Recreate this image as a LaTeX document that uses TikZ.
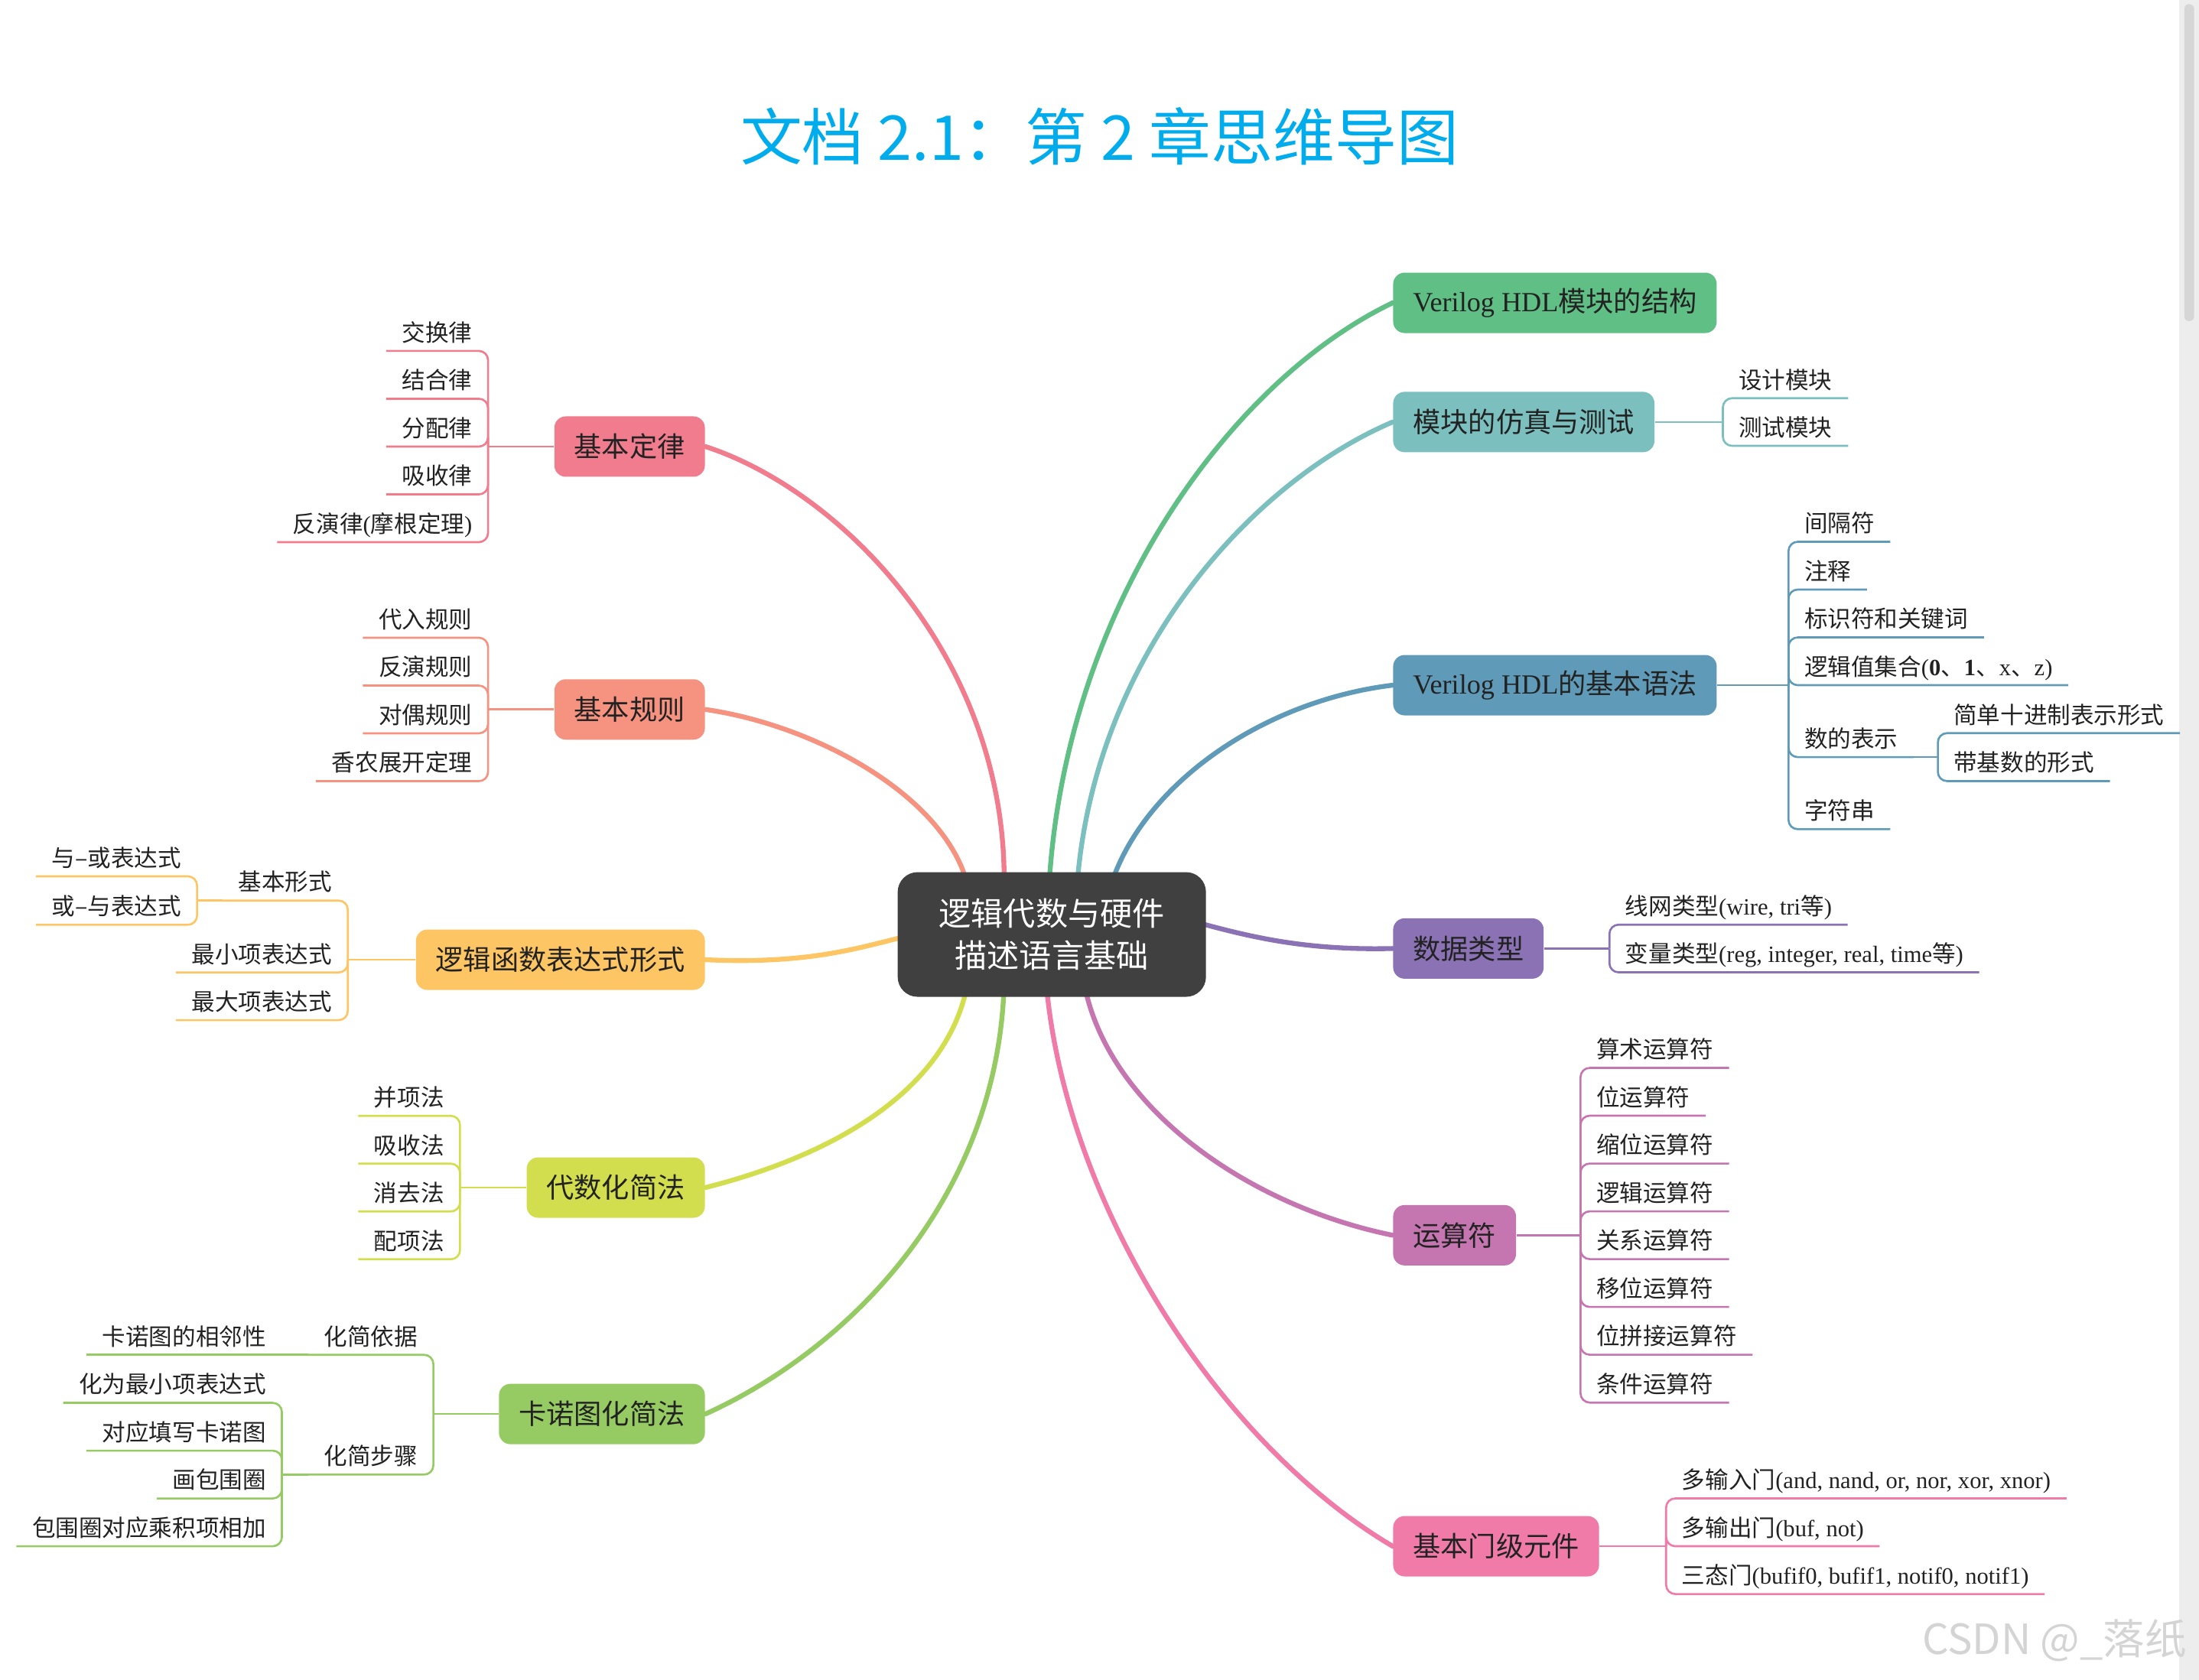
\documentclass[tikz,border=0pt]{standalone}
\usepackage{fontspec}
\setmainfont{Noto Sans CJK SC}
\newfontfamily\lat{Liberation Serif}
\usetikzlibrary{calc}
\pgfdeclarelayer{background}
\pgfsetlayers{background,main}

\definecolor{cTitle}{RGB}{0,172,236}
\definecolor{cCore}{RGB}{64,64,64}
\definecolor{cInk}{RGB}{34,34,34}
\definecolor{cLaw}{RGB}{240,124,142}
\definecolor{cRule}{RGB}{245,146,128}
\definecolor{cForm}{RGB}{253,197,99}
\definecolor{cAlg}{RGB}{210,222,78}
\definecolor{cKmap}{RGB}{149,203,98}
\definecolor{cStruct}{RGB}{96,191,133}
\definecolor{cSim}{RGB}{123,192,190}
\definecolor{cSyn}{RGB}{95,155,184}
\definecolor{cType}{RGB}{138,114,181}
\definecolor{cOp}{RGB}{197,118,177}
\definecolor{cGate}{RGB}{240,123,168}

\tikzset{
    % central topic
    core/.style={fill=cCore, text=white, rounded corners=2.6mm,
        minimum width=40.3mm, minimum height=16.3mm, align=center,
        font=\fontsize{12}{15.6}\selectfont},
    % main branch boxes
    topic/.style={fill=#1, rounded corners=1.5mm, inner xsep=2.6mm,
        inner ysep=0pt, minimum height=7.9mm, text=cInk,
        font=\fontsize{10.3}{12}\selectfont},
    % underlined sub items
    leaf/.style={inner xsep=2mm, inner ysep=0.6mm, text height=2.6mm,
        text depth=0.6mm, text=cInk, font=\fontsize{8.7}{10}\selectfont},
    lleaf/.style={leaf, anchor=south east},
    rleaf/.style={leaf, anchor=south west},
    twig/.style={draw=#1, line width=0.75pt, rounded corners=1.2mm},
    limb/.style={draw=#1, line width=1.8pt, line cap=round}
}

\begin{document}
\begin{tikzpicture}[x=0.18335mm, y=-0.18335mm]
    \useasboundingbox (0,0) rectangle (1568,1198);

    % page scroll bar
    \fill[black!7] (1554,0) rectangle (1568,1198);
    \fill[black!16, rounded corners=0.6mm] (1557.5,3) rectangle (1564.5,229);

    % title
    \node[font=\fontsize{23}{28}\selectfont, text=cTitle] (title) at (784,97)
        {文档 2.1：第 2 章思维导图};

    % central topic
    \node[core] (core) at (750,666.5) {逻辑代数与硬件\\描述语言基础};

    % =========================================================================
    % LEFT SIDE
    % =========================================================================
    \node[topic=cLaw,  anchor=east] (law)  at (503,318.5)  {基本定律};
    \node[topic=cRule, anchor=east] (rule) at (503,506)    {基本规则};
    \node[topic=cForm, anchor=east] (form) at (503,684.5)  {逻辑函数表达式形式};
    \node[topic=cAlg,  anchor=east] (alg)  at (503,847)    {代数化简法};
    \node[topic=cKmap, anchor=east] (kmap) at (503,1008.5) {卡诺图化简法};

    % 基本定律
    \coordinate (law-s) at (348,318.5);
    \foreach \t [count=\i] in {交换律, 结合律, 分配律, 吸收律, 反演律{\lat(}摩根定理{\lat)}}
        \node[lleaf] (law-\i) at (348,{318.5+(\i-3)*34.1}) {\t};
    \draw[twig=cLaw] (law.west) -- (law-s);
    \foreach \i in {1,...,5}
        \draw[twig=cLaw] (law-s) |- (law-\i.south west);

    % 基本规则
    \coordinate (rule-s) at (348,506);
    \foreach \t [count=\i] in {代入规则, 反演规则, 对偶规则, 香农展开定理}
        \node[lleaf] (rule-\i) at (348,{506+(\i-2.5)*34.1}) {\t};
    \draw[twig=cRule] (rule.west) -- (rule-s);
    \foreach \i in {1,...,4}
        \draw[twig=cRule] (rule-s) |- (rule-\i.south west);

    % 逻辑函数表达式形式
    \coordinate (form-s) at (248,684.5);
    \node[lleaf] (form-1) at (248,642.3) {基本形式};
    \node[lleaf] (form-2) at (248,693.6) {最小项表达式};
    \node[lleaf] (form-3) at (248,727.6) {最大项表达式};
    \draw[twig=cForm] (form.west) -- (form-s);
    \foreach \i in {1,2,3}
        \draw[twig=cForm] (form-s) |- (form-\i.south west);
    \coordinate (form-1s) at (140.5,642.3);
    \node[lleaf] (form-1-1) at (140.5,625)   {与–或表达式};
    \node[lleaf] (form-1-2) at (140.5,659.6) {或–与表达式};
    \draw[twig=cForm] (form-1.south west) -- (form-1s);
    \foreach \i in {1,2}
        \draw[twig=cForm] (form-1s) |- (form-1-\i.south west);

    % 代数化简法
    \coordinate (alg-s) at (328,847);
    \foreach \t [count=\i] in {并项法, 吸收法, 消去法, 配项法}
        \node[lleaf] (alg-\i) at (328,{847+(\i-2.5)*34.1}) {\t};
    \draw[twig=cAlg] (alg.west) -- (alg-s);
    \foreach \i in {1,...,4}
        \draw[twig=cAlg] (alg-s) |- (alg-\i.south west);

    % 卡诺图化简法
    \coordinate (kmap-s) at (309,1008.5);
    \node[lleaf] (kmap-1) at (309,966.3)  {化简依据};
    \node[lleaf] (kmap-2) at (309,1051.7) {化简步骤};
    \draw[twig=cKmap] (kmap.west) -- (kmap-s);
    \foreach \i in {1,2}
        \draw[twig=cKmap] (kmap-s) |- (kmap-\i.south west);
    \coordinate (kmap-1s) at (201,966.3);
    \node[lleaf] (kmap-1-1) at (201,966.3) {卡诺图的相邻性};
    \draw[twig=cKmap] (kmap-1.south west) -- (kmap-1s) -- (kmap-1-1.south west);
    \coordinate (kmap-2s) at (201,1051.7);
    \foreach \t [count=\i] in {化为最小项表达式, 对应填写卡诺图, 画包围圈, 包围圈对应乘积项相加}
        \node[lleaf] (kmap-2-\i) at (201,{1051.7+(\i-2.5)*34.1}) {\t};
    \draw[twig=cKmap] (kmap-2.south west) -- (kmap-2s);
    \foreach \i in {1,...,4}
        \draw[twig=cKmap] (kmap-2s) |- (kmap-2-\i.south west);

    % =========================================================================
    % RIGHT SIDE
    % =========================================================================
    \node[topic=cStruct, anchor=west] (struct) at (993,216)    {{\lat Verilog HDL}模块的结构};
    \node[topic=cSim,    anchor=west] (sim)    at (993,301)    {模块的仿真与测试};
    \node[topic=cSyn,    anchor=west] (syn)    at (993,488.7)  {{\lat Verilog HDL}的基本语法};
    \node[topic=cType,   anchor=west] (type)   at (993,676.5)  {数据类型};
    \node[topic=cOp,     anchor=west] (op)     at (993,881)    {运算符};
    \node[topic=cGate,   anchor=west] (gate)   at (993,1102.8) {基本门级元件};

    % 模块的仿真与测试
    \coordinate (sim-s) at (1228.5,301);
    \node[rleaf] (sim-1) at (1228.5,284) {设计模块};
    \node[rleaf] (sim-2) at (1228.5,318) {测试模块};
    \draw[twig=cSim] (sim.east) -- (sim-s);
    \foreach \i in {1,2}
        \draw[twig=cSim] (sim-s) |- (sim-\i.south east);

    % Verilog HDL的基本语法
    \coordinate (syn-s) at (1275.3,488.7);
    \node[rleaf] (syn-1) at (1275.3,386.4) {间隔符};
    \node[rleaf] (syn-2) at (1275.3,420.5) {注释};
    \node[rleaf] (syn-3) at (1275.3,454.6) {标识符和关键词};
    \node[rleaf] (syn-4) at (1275.3,488.7)
        {逻辑值集合{\lat(\textbf{0}}、{\lat\textbf{1}}、{\lat x}、{\lat z)}};
    \node[rleaf] (syn-5) at (1275.3,540)   {数的表示};
    \node[rleaf] (syn-6) at (1275.3,591.4) {字符串};
    \draw[twig=cSyn] (syn.east) -- (syn-s);
    \foreach \i in {1,...,6}
        \draw[twig=cSyn] (syn-s) |- (syn-\i.south east);
    \coordinate (syn-5s) at (1381.8,540);
    \node[rleaf] (syn-5-1) at (1381.8,522.9) {简单十进制表示形式};
    \node[rleaf] (syn-5-2) at (1381.8,557.1) {带基数的形式};
    \draw[twig=cSyn] (syn-5.south east) -- (syn-5s);
    \foreach \i in {1,2}
        \draw[twig=cSyn] (syn-5s) |- (syn-5-\i.south east);

    % 数据类型
    \coordinate (type-s) at (1147.6,676.5);
    \node[rleaf] (type-1) at (1147.6,659.5) {线网类型{\lat(wire, tri}等{\lat)}};
    \node[rleaf] (type-2) at (1147.6,693.5) {变量类型{\lat(reg, integer, real, time}等{\lat)}};
    \draw[twig=cType] (type.east) -- (type-s);
    \foreach \i in {1,2}
        \draw[twig=cType] (type-s) |- (type-\i.south east);

    % 运算符
    \coordinate (op-s) at (1127,881);
    \foreach \t [count=\i] in {算术运算符, 位运算符, 缩位运算符, 逻辑运算符,
                               关系运算符, 移位运算符, 位拼接运算符, 条件运算符}
        \node[rleaf] (op-\i) at (1127,{881+(\i-4.5)*34.1}) {\t};
    \draw[twig=cOp] (op.east) -- (op-s);
    \foreach \i in {1,...,8}
        \draw[twig=cOp] (op-s) |- (op-\i.south east);

    % 基本门级元件
    \coordinate (gate-s) at (1188,1102.8);
    \node[rleaf] (gate-1) at (1188,1068.7) {多输入门{\lat(and, nand, or, nor, xor, xnor)}};
    \node[rleaf] (gate-2) at (1188,1102.8) {多输出门{\lat(buf, not)}};
    \node[rleaf] (gate-3) at (1188,1136.9) {三态门{\lat(bufif0, bufif1, notif0, notif1)}};
    \draw[twig=cGate] (gate.east) -- (gate-s);
    \foreach \i in {1,2,3}
        \draw[twig=cGate] (gate-s) |- (gate-\i.south east);

    % =========================================================================
    % CURVED LIMBS: from the topics into the central topic
    % =========================================================================
    \begin{pgfonlayer}{background}
        \draw[limb=cLaw]    (law.east)    .. controls +(97,31.5) and +(2,-162) .. ($(core.north)+(-34,10)$);
        \draw[limb=cRule]   (rule.east)   .. controls +(82,12) and +(-15,-62) .. ($(core.north)+(-60,10)$);
        \draw[limb=cForm]   (form.east)   .. controls +(77,3.5) and +(-35,8) .. ($(core.west)+(10,0.5)$);
        \draw[limb=cAlg]    (alg.east)    .. controls +(87,-22) and +(-15,79) .. ($(core.south)+(-60,-10)$);
        \draw[limb=cKmap]   (kmap.east)   .. controls +(107,-48.5) and +(-4,149) .. ($(core.south)+(-34,-10)$);
        \draw[limb=cStruct] (struct.west) .. controls +(-113,54) and +(12,-202) .. ($(core.north)+(-2,10)$);
        \draw[limb=cSim]    (sim.west)    .. controls +(-103,44) and +(12,-162) .. ($(core.north)+(18,10)$);
        \draw[limb=cSyn]    (syn.west)    .. controls +(-93,11.3) and +(23,-72) .. ($(core.north)+(42,10)$);
        \draw[limb=cType]   (type.west)   .. controls +(-63,1.5) and +(40,11) .. ($(core.east)+(-10,-9.5)$);
        \draw[limb=cOp]     (op.west)     .. controls +(-103,-21) and +(17,89) .. ($(core.south)+(23,-10)$);
        \draw[limb=cGate]   (gate.west)   .. controls +(-123,-72.8) and +(14,159) .. ($(core.south)+(-4,-10)$);
    \end{pgfonlayer}

    % watermark
    \node[font=\fontsize{15.5}{18}\selectfont, text=black!17, anchor=east] (mark) at (1566,1170)
        {CSDN @\_落纸};
\end{tikzpicture}
\end{document}
